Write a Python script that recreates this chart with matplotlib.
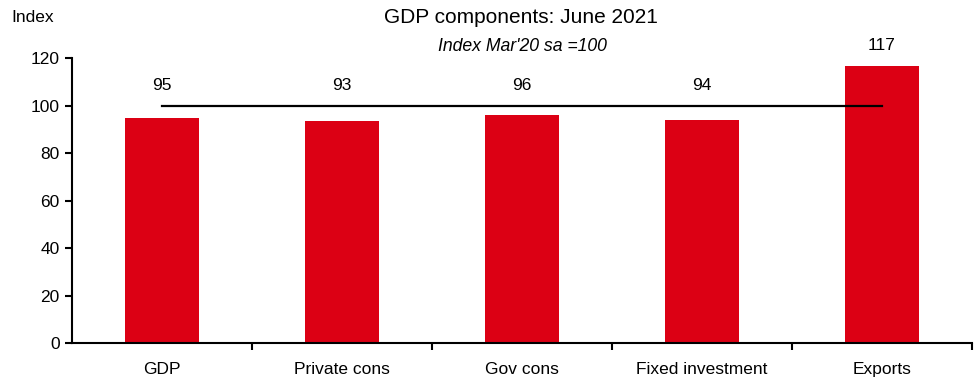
import matplotlib
matplotlib.use("Agg")
import matplotlib.pyplot as plt
import numpy as np

plt.rcParams["font.family"] = ["Liberation Sans", "DejaVu Sans"]

categories = ["GDP", "Private cons", "Gov cons", "Fixed investment", "Exports"]
values = [94.8, 93.4, 95.8, 93.9, 116.7]
labels = ["95", "93", "96", "94", "117"]
baseline = 100

red = "#DC0014"

fig = plt.figure(figsize=(9.76, 3.81), dpi=100)
ax = fig.add_axes([0.0738, 0.0997, 0.922, 0.748])

x = np.arange(len(categories))
ax.bar(x, values, width=0.41, color=red, zorder=2)
ax.plot([x[0], x[-1]], [baseline, baseline], color="black", lw=1.6, zorder=3)

for xi, v, lab in zip(x, values, labels):
    ax.text(xi, max(v, baseline) + 8.5, lab, ha="center", va="center",
            fontsize=12.5, clip_on=False)

ax.set_xlim(-0.5, len(categories) - 0.5)
ax.set_ylim(0, 120)
ax.set_yticks(range(0, 121, 20))
ax.set_xticks(x)
ax.set_xticklabels(categories)
ax.set_xticks(np.arange(0.5, len(categories), 1.0), minor=True)
ax.tick_params(axis="x", which="major", length=0, pad=13.5, labelsize=12.5)
ax.tick_params(axis="x", which="minor", length=5, width=1.5, direction="out")
ax.tick_params(axis="y", length=5, width=1.5, direction="out", labelsize=12.5, pad=4)

for s in ["top", "right"]:
    ax.spines[s].set_visible(False)
for s in ["left", "bottom"]:
    ax.spines[s].set_linewidth(1.5)

fig.text(0.534, 0.953, "GDP components: June 2021", ha="center", va="center", fontsize=15)
fig.text(0.535, 0.878, "Index Mar'20 sa =100", ha="center", va="center",
         fontsize=12.7, style="italic")
fig.text(0.012, 0.953, "Index", ha="left", va="center", fontsize=12.5)

fig.savefig("out.png", dpi=100)
